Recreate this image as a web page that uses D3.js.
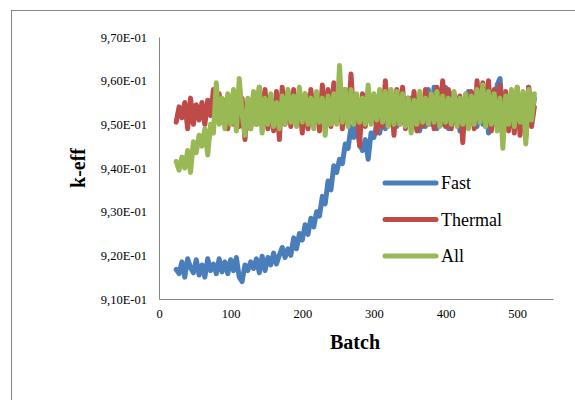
<!DOCTYPE html>
<html>
<head>
<meta charset="utf-8">
<script src="https://cdn.jsdelivr.net/npm/d3@7"></script>
<style>
  body { margin: 0; background: #fff; }
  svg { font-family: "Liberation Serif", "Times New Roman", serif; }
</style>
</head>
<body>
<div id="chart"></div>
<script>
// batch numbers (every 4th batch, 24..524)
const batches = d3.range(24, 525, 4);

const fastValues = [
  0.9168, 0.9158, 0.9185, 0.9150, 0.9192, 0.9172, 0.9160, 0.9190, 0.9155, 0.9178,
  0.9150, 0.9192, 0.9165, 0.9180, 0.9158, 0.9192, 0.9162, 0.9185, 0.9158, 0.9190,
  0.9165, 0.9195, 0.9150, 0.9140, 0.9178, 0.9165, 0.9185, 0.9170, 0.9192, 0.9160,
  0.9198, 0.9165, 0.9195, 0.9178, 0.9205, 0.9180, 0.9200, 0.9218, 0.9195, 0.9215,
  0.9200, 0.9240, 0.9215, 0.9250, 0.9235, 0.9270, 0.9248, 0.9285, 0.9265, 0.9300,
  0.9290, 0.9335, 0.9318, 0.9370, 0.9350, 0.9405, 0.9390, 0.9420, 0.9410, 0.9455,
  0.9445, 0.9495, 0.9470, 0.9500, 0.9455, 0.9440, 0.9465, 0.9420, 0.9480, 0.9470,
  0.9500, 0.9480, 0.9510, 0.9490, 0.9520, 0.9500, 0.9535, 0.9495, 0.9545, 0.9505,
  0.9550, 0.9515, 0.9560, 0.9495, 0.9545, 0.9485, 0.9555, 0.9495, 0.9580, 0.9500,
  0.9585, 0.9490, 0.9560, 0.9500, 0.9585, 0.9490, 0.9570, 0.9505, 0.9560, 0.9485,
  0.9555, 0.9500, 0.9575, 0.9505, 0.9560, 0.9495, 0.9565, 0.9500, 0.9555, 0.9480,
  0.9570, 0.9500, 0.9590, 0.9605, 0.9520, 0.9565, 0.9495, 0.9560, 0.9500, 0.9555,
  0.9505, 0.9570, 0.9500, 0.9585, 0.9510, 0.9560
];

const thermalValues = [
  0.9505, 0.9540, 0.9515, 0.9550, 0.9490, 0.9560, 0.9500, 0.9545, 0.9510, 0.9550,
  0.9500, 0.9555, 0.9520, 0.9580, 0.9545, 0.9570, 0.9505, 0.9555, 0.9490, 0.9560,
  0.9500, 0.9550, 0.9495, 0.9560, 0.9465, 0.9545, 0.9490, 0.9570, 0.9500, 0.9585,
  0.9495, 0.9580, 0.9490, 0.9560, 0.9485, 0.9575, 0.9465, 0.9585, 0.9500, 0.9575,
  0.9495, 0.9580, 0.9505, 0.9560, 0.9480, 0.9570, 0.9490, 0.9580, 0.9500, 0.9570,
  0.9485, 0.9590, 0.9500, 0.9580, 0.9495, 0.9595, 0.9505, 0.9575, 0.9490, 0.9580,
  0.9500, 0.9615, 0.9510, 0.9560, 0.9450, 0.9570, 0.9495, 0.9575, 0.9505, 0.9560,
  0.9480, 0.9575, 0.9495, 0.9600, 0.9505, 0.9570, 0.9475, 0.9580, 0.9500, 0.9585,
  0.9490, 0.9560, 0.9505, 0.9575, 0.9485, 0.9560, 0.9495, 0.9580, 0.9500, 0.9570,
  0.9490, 0.9585, 0.9505, 0.9600, 0.9495, 0.9580, 0.9490, 0.9570, 0.9500, 0.9565,
  0.9458, 0.9560, 0.9500, 0.9575, 0.9490, 0.9600, 0.9510, 0.9595, 0.9495, 0.9600,
  0.9485, 0.9580, 0.9500, 0.9590, 0.9470, 0.9575, 0.9485, 0.9570, 0.9480, 0.9585,
  0.9475, 0.9560, 0.9470, 0.9585, 0.9495, 0.9540
];

const allValues = [
  0.9415, 0.9395, 0.9425, 0.9400, 0.9440, 0.9390, 0.9460, 0.9435, 0.9475, 0.9450,
  0.9490, 0.9430, 0.9500, 0.9480, 0.9595, 0.9500, 0.9560, 0.9490, 0.9570, 0.9500,
  0.9580, 0.9485, 0.9605, 0.9525, 0.9475, 0.9560, 0.9490, 0.9575, 0.9500, 0.9585,
  0.9480, 0.9560, 0.9500, 0.9570, 0.9495, 0.9550, 0.9490, 0.9565, 0.9500, 0.9580,
  0.9505, 0.9565, 0.9495, 0.9585, 0.9505, 0.9570, 0.9500, 0.9560, 0.9490, 0.9575,
  0.9505, 0.9560, 0.9475, 0.9565, 0.9500, 0.9570, 0.9500, 0.9635, 0.9505, 0.9580,
  0.9495, 0.9580, 0.9500, 0.9570, 0.9505, 0.9560, 0.9500, 0.9590, 0.9500, 0.9570,
  0.9510, 0.9580, 0.9505, 0.9575, 0.9495, 0.9580, 0.9500, 0.9575, 0.9500, 0.9570,
  0.9495, 0.9560, 0.9480, 0.9555, 0.9500, 0.9575, 0.9505, 0.9560, 0.9500, 0.9570,
  0.9505, 0.9575, 0.9495, 0.9565, 0.9505, 0.9560, 0.9500, 0.9575, 0.9495, 0.9560,
  0.9500, 0.9570, 0.9490, 0.9565, 0.9500, 0.9580, 0.9505, 0.9590, 0.9495, 0.9575,
  0.9500, 0.9570, 0.9485, 0.9560, 0.9445, 0.9565, 0.9500, 0.9580, 0.9495, 0.9585,
  0.9505, 0.9575, 0.9455, 0.9580, 0.9510, 0.9570
];

const seriesNames = ["Fast", "Thermal", "All"];
const seriesColors = ["#4a7ebb", "#be4b48", "#98b954"];
const xTicks = [0, 100, 200, 300, 400, 500];
const yTicks = [0.91, 0.92, 0.93, 0.94, 0.95, 0.96, 0.97];

const width = 575, height = 400;
const svg = d3.select("#chart")
  .append("svg")
  .attr("width", width)
  .attr("height", height);

// outer chart frame
svg.append("rect")
  .attr("x", 11.5).attr("y", 10.5)
  .attr("width", 600).attr("height", 500)
  .attr("fill", "none")
  .attr("stroke", "#868686");

const x = d3.scaleLinear().domain([0, 550]).range([159, 553]);
const y = d3.scaleLinear().domain([0.91, 0.97]).range([299, 37]);

const fmt = v => (v * 10).toFixed(2).replace(".", ",") + "E-01";

// y axis
const yAxis = svg.append("g")
  .attr("transform", `translate(${x(0)},0)`)
  .call(d3.axisLeft(y).tickValues(yTicks).tickFormat(fmt).tickSize(0).tickPadding(12));
yAxis.select(".domain").attr("stroke", "#868686");
yAxis.selectAll("text")
  .attr("font-family", "Liberation Serif")
  .attr("font-size", 12.5)
  .attr("fill", "#000");

// x axis
const xAxis = svg.append("g")
  .attr("transform", `translate(0,${y(0.91)})`)
  .call(d3.axisBottom(x).tickValues(xTicks).tickSize(0).tickPadding(10));
xAxis.select(".domain").attr("stroke", "#868686");
xAxis.selectAll("text")
  .attr("font-family", "Liberation Serif")
  .attr("font-size", 12.5)
  .attr("fill", "#000");

// series
const allSeries = [fastValues, thermalValues, allValues];
const line = d3.line()
  .x((d, i) => x(batches[i]))
  .y(d => y(d));

allSeries.forEach((vals, k) => {
  svg.append("path")
    .datum(vals)
    .attr("d", line)
    .attr("fill", "none")
    .attr("stroke", seriesColors[k])
    .attr("stroke-width", 5)
    .attr("stroke-linejoin", "round")
    .attr("stroke-linecap", "round");
});

// axis titles
svg.append("text")
  .attr("x", 355).attr("y", 349)
  .attr("text-anchor", "middle")
  .attr("font-weight", "bold")
  .attr("font-size", 20)
  .text("Batch");

svg.append("text")
  .attr("transform", "translate(85,168) rotate(-90)")
  .attr("text-anchor", "middle")
  .attr("font-weight", "bold")
  .attr("font-size", 20)
  .text("k-eff");

// legend
const legend = svg.append("g");
seriesNames.forEach((name, k) => {
  const ly = 183 + k * 36.5;
  legend.append("line")
    .attr("x1", 385).attr("x2", 436)
    .attr("y1", ly).attr("y2", ly)
    .attr("stroke", seriesColors[k])
    .attr("stroke-width", 5)
    .attr("stroke-linecap", "round");
  legend.append("text")
    .attr("x", 441).attr("y", ly + 6)
    .attr("font-size", 18)
    .text(name);
});
</script>
</body>
</html>
